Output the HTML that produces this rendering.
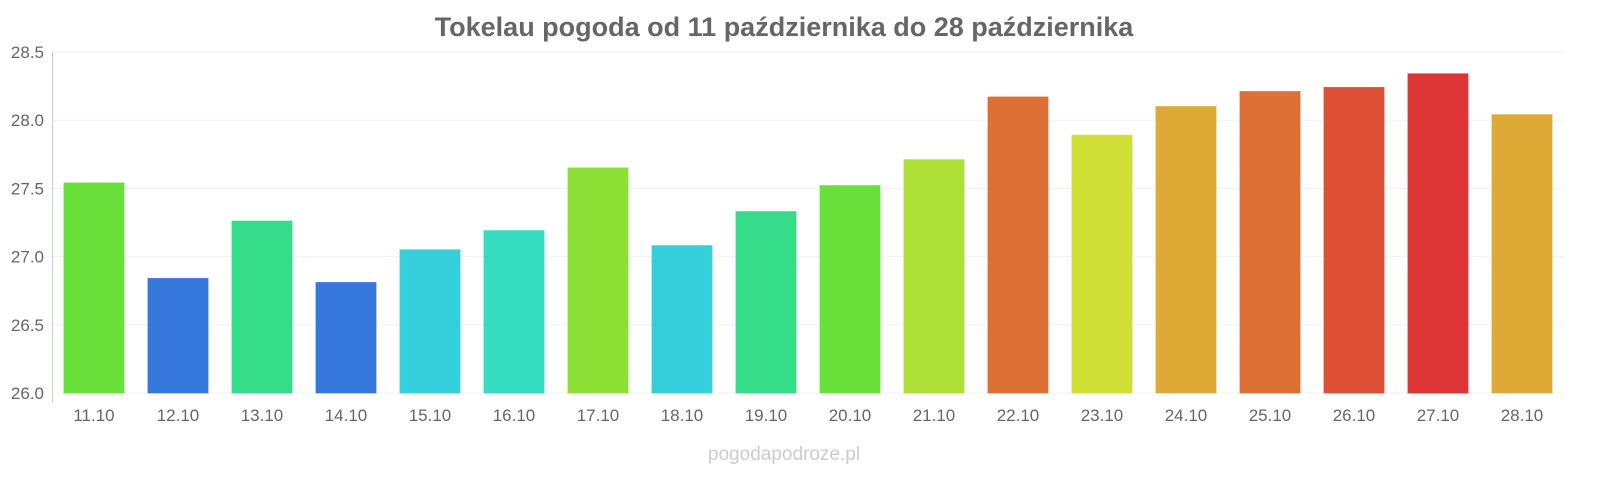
<!DOCTYPE html>
<html><head><meta charset="utf-8"><style>
html,body{margin:0;padding:0;background:#fff;font-family:"Liberation Sans",sans-serif;overflow:hidden;width:1600px;height:480px;}
svg{display:block;}
</style></head><body>
<svg width="1600" height="480" xmlns="http://www.w3.org/2000/svg" font-family="Liberation Sans, sans-serif">
<text x="784" y="36" text-anchor="middle" font-size="27" font-weight="bold" fill="#666">Tokelau pogoda od 11 października do 28 października</text>
<g id="grid"></g><g id="bars"></g><g id="xl"></g><g id="yl"></g>
<line x1="52.5" y1="52" x2="52.5" y2="403" stroke="#ccc"/>
<text x="784" y="460" text-anchor="middle" font-size="19" fill="#ccc">pogodapodroze.pl</text>
</svg>
<script>
const categories=["11.10","12.10","13.10","14.10","15.10","16.10","17.10","18.10","19.10","20.10","21.10","22.10","23.10","24.10","25.10","26.10","27.10","28.10"];
const values=[27.54,26.84,27.26,26.81,27.05,27.19,27.65,27.08,27.33,27.52,27.71,28.17,27.89,28.10,28.21,28.24,28.34,28.04];
const colors=["#6ae03a","#3778dd","#35dc8a","#3778dd","#35cfdb","#35dcbd","#8ddf36","#35cfdb","#35dc8a","#6ae03a","#addf36","#de6f35","#d0df35","#dea935","#de6f35","#de5035","#dd3535","#dea935"];
const ticks=[26.0,26.5,27.0,27.5,28.0,28.5];
const ns="http://www.w3.org/2000/svg";
const y=v=>393-(v-26)*(341/2.5);
const x=i=>52+84*i+42;
function mk(t,a,p){const e=document.createElementNS(ns,t);for(const k in a)e.setAttribute(k,a[k]);document.getElementById(p).appendChild(e);return e;}
ticks.forEach(t=>{
 const l=mk("line",{x1:52,x2:1564,y1:y(t),y2:y(t),stroke:"#f0f0f0"},"grid");
 
 
 const tx=mk("text",{x:44,y:y(t)+6,"text-anchor":"end","font-size":17,fill:"#666"},"yl");
 tx.textContent=t.toFixed(1);
 
 
});
categories.forEach((c,i)=>{
 const r=mk("rect",{x:x(i)-30,y:y(values[i]),width:60,height:393-y(values[i]),fill:colors[i],stroke:colors[i],"stroke-opacity":0.8},"bars");
 
 
 const tx=mk("text",{x:x(i),y:421,"text-anchor":"middle","font-size":17,fill:"#666"},"xl");
 tx.textContent=c;
 
 
});
</script>
</body></html>
